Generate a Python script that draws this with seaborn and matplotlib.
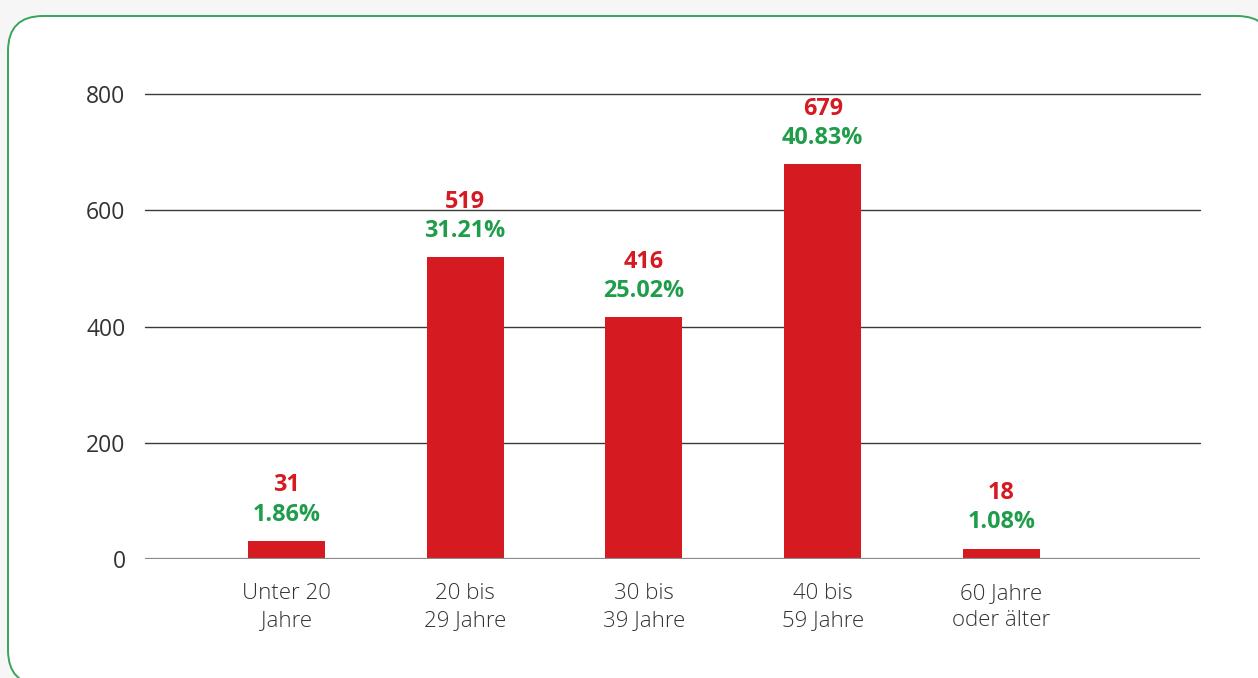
import matplotlib
matplotlib.use("Agg")
import matplotlib.pyplot as plt
import seaborn as sns
import pandas as pd
from matplotlib.patches import FancyBboxPatch

categories = ["Unter 20\nJahre", "20 bis\n29 Jahre", "30 bis\n39 Jahre", "40 bis\n59 Jahre", "60 Jahre\noder älter"]
counts = [31, 519, 416, 679, 18]
percents = ["1.86%", "31.21%", "25.02%", "40.83%", "1.08%"]
yticks = [0, 200, 400, 600, 800]

RED = "#d51a22"
GREEN = "#1f9d4a"

sns.set_theme(style="white")
plt.rcParams["font.family"] = ["Open Sans", "DejaVu Sans"]

df = pd.DataFrame({"cat": categories, "count": counts})

W, H = 1258, 678
fig = plt.figure(figsize=(W / 100, H / 100), dpi=100)
fig.patch.set_facecolor("#f6f6f6")

# background card (pixel coordinates)
bg = fig.add_axes([0, 0, 1, 1], zorder=-5)
bg.set_xlim(0, W)
bg.set_ylim(H, 0)
bg.axis("off")
bg.add_patch(FancyBboxPatch((8, 16), 1272 - 8, 685 - 16,
                            boxstyle="round,pad=0,rounding_size=35",
                            facecolor="white", edgecolor="#3aa45a", linewidth=1.4))

ax = fig.add_axes([145 / W, 1 - 559 / H, (1200 - 145) / W, (559 - 94) / H], zorder=1)
ax.set_facecolor("none")
sns.barplot(data=df, x="cat", y="count", color=RED, width=0.43, saturation=1, ax=ax,
            zorder=3, linewidth=0, edgecolor="none")

ax.set_xlim(-0.79, 5.11)
ax.set_ylim(0, 800)
ax.set_yticks(yticks)
ax.set_yticklabels([str(t) for t in yticks])
for t in yticks[1:]:
    ax.axhline(t, color="#3a3a3a", linewidth=1.0, zorder=1, clip_on=False)
ax.axhline(0, color="#8a8a8a", linewidth=1.6, zorder=4)

for s in ax.spines.values():
    s.set_visible(False)
ax.set_xlabel("")
ax.set_ylabel("")
ax.tick_params(axis="both", length=0, labelsize=16, labelcolor="#333333")
ax.tick_params(axis="y", pad=14, labelsize=16.5)
ax.tick_params(axis="x", pad=17, labelcolor="#333333")
for lab in ax.get_xticklabels():
    lab.set_fontweight("light")
    lab.set_linespacing(1.42)

for i, (c, p) in enumerate(zip(counts, percents)):
    ax.annotate(p, (i, c), xytext=(0, 19), textcoords="offset points", ha="center", va="center",
                color=GREEN, fontsize=16.8, fontweight="bold", zorder=5)
    ax.annotate(str(c), (i, c), xytext=(0, 40), textcoords="offset points", ha="center", va="center",
                color=RED, fontsize=16.8, fontweight="bold", zorder=5)

fig.savefig("out.png", dpi=100, facecolor=fig.get_facecolor())
